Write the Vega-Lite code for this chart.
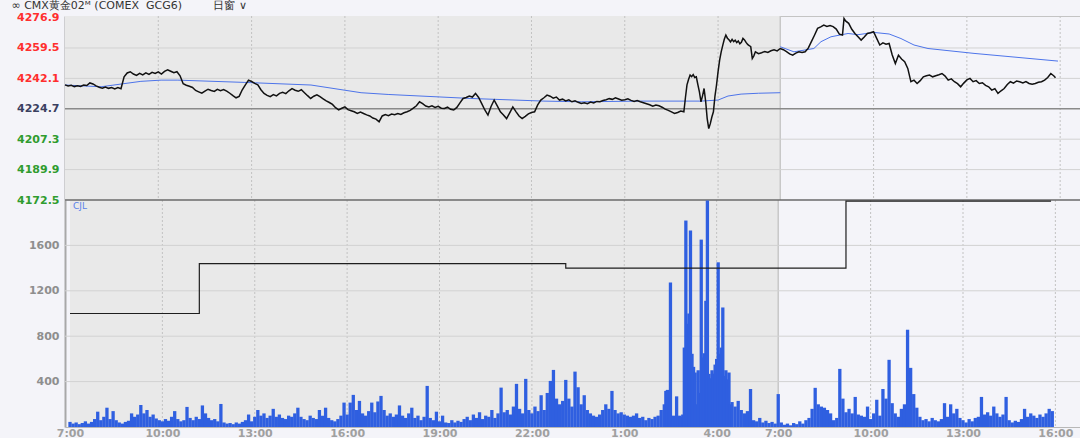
{
"$schema": "https://vega.github.io/schema/vega-lite/v6.json",
"background": "#f4f4f9",
"padding": {"left": 0, "top": 0, "right": 0, "bottom": 0},
"bounds": "flush",
"title": {"text": "∞ CMX黄金02ᴹ (COMEX\u00a0\u00a0GCG6)\u00a0\u00a0\u00a0\u00a0\u00a0\u00a0\u00a0\u00a0\u00a0日窗 ∨", "anchor": "start", "frame": "bounds", "font": "DejaVu Sans", "fontSize": 11, "fontWeight": "normal", "color": "#333333", "offset": 0, "dx": 11},
"spacing": 0,
"config": {"font": "DejaVu Sans", "view": {"stroke": null}, "axis": {"labelFont": "DejaVu Sans", "labelFontWeight": "bold", "labelFontSize": 11, "ticks": false, "grid": false, "title": null, "labelOverlap": false, "labelFlush": false, "labelBound": false}},
"datasets": {
"bg": [{"t": 0, "t2": 23}],
"gx": [{"t": 3}, {"t": 6}, {"t": 9}, {"t": 12}, {"t": 15}, {"t": 18}, {"t": 21}, {"t": 26}, {"t": 29}, {"t": 32}],
"b23": [{"t": 23}],
"gy1": [{"p": 4189.9}, {"p": 4207.3}, {"p": 4242.1}, {"p": 4259.5}],
"gy2": [{"v": 400}, {"v": 800}, {"v": 1200}, {"v": 1600}],
"topv": [{"v": 2000}],
"pc": [{"p": 4224.7}],
"cjl": [{"t": 0, "c": 1000}, {"t": 4.2, "c": 1440}, {"t": 16.1, "c": 1400}, {"t": 25.2, "c": 1990}, {"t": 31.86, "c": 1990}],
"lab": [{"t": 0, "v": 2000, "s": "CJL"}],
"avg": [
{"t":0,"p":4238.3,"s":1},{"t":1.16,"p":4237.3,"s":1},{"t":1.86,"p":4239.0,"s":1},{"t":2.44,"p":4240.4,"s":1},{"t":3.09,"p":4241.1,"s":1},{"t":3.63,"p":4241.1,"s":1},{"t":5.76,"p":4239.8,"s":1},{"t":7.91,"p":4238.3,"s":1},{"t":9.52,"p":4233.9,"s":1},{"t":10.39,"p":4232.9,"s":1},{"t":13.05,"p":4230.6,"s":1},{"t":15.4,"p":4229.1,"s":1},{"t":16.6,"p":4228.7,"s":1},{"t":18.52,"p":4229.1,"s":1},{"t":20.45,"p":4229.1,"s":1},{"t":21.0,"p":4229.7,"s":1},{"t":21.32,"p":4232.0,"s":1},{"t":21.74,"p":4233.1,"s":1},{"t":22.3,"p":4233.6,"s":1},{"t":23.0,"p":4233.9,"s":1},
{"t":23.0,"p":4260.2,"s":2},{"t":23.44,"p":4257.3,"s":2},{"t":24.08,"p":4259.2,"s":2},{"t":24.31,"p":4263.1,"s":2},{"t":24.63,"p":4265.9,"s":2},{"t":25.18,"p":4267.8,"s":2},{"t":25.5,"p":4267.1,"s":2},{"t":26.01,"p":4268.4,"s":2},{"t":26.5,"p":4267.5,"s":2},{"t":26.88,"p":4264.9,"s":2},{"t":27.3,"p":4261.2,"s":2},{"t":27.75,"p":4259.2,"s":2},{"t":29.23,"p":4256.4,"s":2},{"t":31.93,"p":4252.0,"s":2}
],
"px": [
{"t":0,"p":4238.4},{"t":0.1,"p":4237.8},{"t":0.2,"p":4238.1},{"t":0.3,"p":4237.4},{"t":0.4,"p":4237.9},{"t":0.5,"p":4237.5},{"t":0.6,"p":4238.3},{"t":0.7,"p":4238.0},{"t":0.8,"p":4239.5},{"t":0.9,"p":4238.9},
{"t":1.0,"p":4237.8},{"t":1.1,"p":4237.0},{"t":1.2,"p":4236.5},{"t":1.3,"p":4237.2},{"t":1.4,"p":4236.4},{"t":1.5,"p":4236.9},{"t":1.6,"p":4236.1},{"t":1.7,"p":4236.8},{"t":1.8,"p":4236.2},{"t":1.9,"p":4243.0},
{"t":2.0,"p":4245.2},{"t":2.1,"p":4245.9},{"t":2.2,"p":4244.6},{"t":2.3,"p":4243.8},{"t":2.4,"p":4245.0},{"t":2.5,"p":4244.1},{"t":2.6,"p":4245.3},{"t":2.7,"p":4244.4},{"t":2.8,"p":4245.6},{"t":2.9,"p":4244.9},
{"t":3.0,"p":4245.8},{"t":3.1,"p":4244.6},{"t":3.2,"p":4246.1},{"t":3.3,"p":4247.0},{"t":3.4,"p":4246.2},{"t":3.5,"p":4245.3},{"t":3.6,"p":4245.9},{"t":3.7,"p":4243.6},{"t":3.8,"p":4239.0},{"t":3.9,"p":4238.2},
{"t":4.0,"p":4237.6},{"t":4.1,"p":4236.9},{"t":4.2,"p":4235.2},{"t":4.3,"p":4234.4},{"t":4.4,"p":4233.6},{"t":4.5,"p":4234.8},{"t":4.6,"p":4235.9},{"t":4.7,"p":4235.2},{"t":4.8,"p":4234.6},{"t":4.9,"p":4235.8},
{"t":5.0,"p":4235.1},{"t":5.1,"p":4235.7},{"t":5.2,"p":4234.8},{"t":5.3,"p":4233.6},{"t":5.4,"p":4232.2},{"t":5.5,"p":4231.0},{"t":5.6,"p":4231.8},{"t":5.7,"p":4235.6},{"t":5.8,"p":4238.4},{"t":5.9,"p":4241.1},
{"t":6.0,"p":4240.3},{"t":6.1,"p":4239.2},{"t":6.2,"p":4238.4},{"t":6.3,"p":4235.6},{"t":6.4,"p":4233.5},{"t":6.5,"p":4232.4},{"t":6.6,"p":4231.6},{"t":6.7,"p":4232.8},{"t":6.8,"p":4232.1},{"t":6.9,"p":4233.5},
{"t":7.0,"p":4234.1},{"t":7.1,"p":4233.4},{"t":7.2,"p":4235.0},{"t":7.3,"p":4236.2},{"t":7.4,"p":4235.3},{"t":7.5,"p":4234.7},{"t":7.6,"p":4235.6},{"t":7.7,"p":4233.9},{"t":7.8,"p":4232.2},{"t":7.9,"p":4230.6},
{"t":8.0,"p":4231.9},{"t":8.1,"p":4232.7},{"t":8.2,"p":4231.6},{"t":8.3,"p":4230.4},{"t":8.4,"p":4229.2},{"t":8.5,"p":4228.3},{"t":8.6,"p":4227.2},{"t":8.7,"p":4225.3},{"t":8.8,"p":4224.1},{"t":8.9,"p":4225.0},
{"t":9.0,"p":4225.8},{"t":9.1,"p":4224.2},{"t":9.2,"p":4223.6},{"t":9.3,"p":4223.0},{"t":9.4,"p":4222.1},{"t":9.5,"p":4222.8},{"t":9.6,"p":4222.0},{"t":9.7,"p":4221.2},{"t":9.8,"p":4220.6},{"t":9.9,"p":4219.4},
{"t":10.0,"p":4218.8},{"t":10.1,"p":4217.3},{"t":10.2,"p":4220.6},{"t":10.3,"p":4221.4},{"t":10.4,"p":4220.8},{"t":10.5,"p":4221.7},{"t":10.6,"p":4221.3},{"t":10.7,"p":4222.0},{"t":10.8,"p":4221.5},{"t":10.9,"p":4222.4},
{"t":11.0,"p":4223.0},{"t":11.1,"p":4223.8},{"t":11.2,"p":4225.1},{"t":11.3,"p":4226.4},{"t":11.4,"p":4228.7},{"t":11.5,"p":4227.6},{"t":11.6,"p":4226.3},{"t":11.7,"p":4225.8},{"t":11.8,"p":4226.4},{"t":11.9,"p":4225.5},
{"t":12.0,"p":4226.1},{"t":12.1,"p":4225.0},{"t":12.2,"p":4224.9},{"t":12.3,"p":4225.6},{"t":12.4,"p":4224.4},{"t":12.5,"p":4224.0},{"t":12.6,"p":4225.5},{"t":12.7,"p":4228.1},{"t":12.8,"p":4230.6},{"t":12.9,"p":4231.2},
{"t":13.0,"p":4232.0},{"t":13.1,"p":4231.4},{"t":13.2,"p":4233.5},{"t":13.3,"p":4231.2},{"t":13.4,"p":4227.7},{"t":13.5,"p":4224.0},{"t":13.6,"p":4221.1},{"t":13.7,"p":4226.0},{"t":13.8,"p":4229.7},{"t":13.9,"p":4226.4},
{"t":14.0,"p":4223.0},{"t":14.1,"p":4221.2},{"t":14.2,"p":4219.1},{"t":14.3,"p":4222.4},{"t":14.4,"p":4225.8},{"t":14.5,"p":4223.1},{"t":14.6,"p":4220.6},{"t":14.7,"p":4219.1},{"t":14.8,"p":4220.4},{"t":14.9,"p":4221.8},
{"t":15.0,"p":4222.6},{"t":15.1,"p":4223.0},{"t":15.2,"p":4226.9},{"t":15.3,"p":4229.7},{"t":15.4,"p":4231.0},{"t":15.5,"p":4232.5},{"t":15.6,"p":4231.9},{"t":15.7,"p":4230.8},{"t":15.8,"p":4231.4},{"t":15.9,"p":4229.7},
{"t":16.0,"p":4230.2},{"t":16.1,"p":4229.2},{"t":16.2,"p":4229.8},{"t":16.3,"p":4228.7},{"t":16.4,"p":4229.3},{"t":16.5,"p":4228.4},{"t":16.6,"p":4227.7},{"t":16.7,"p":4228.2},{"t":16.8,"p":4227.6},{"t":16.9,"p":4228.5},
{"t":17.0,"p":4228.0},{"t":17.1,"p":4228.9},{"t":17.2,"p":4228.7},{"t":17.3,"p":4229.4},{"t":17.4,"p":4229.9},{"t":17.5,"p":4230.5},{"t":17.6,"p":4230.1},{"t":17.7,"p":4231.0},{"t":17.8,"p":4230.3},{"t":17.9,"p":4229.6},
{"t":18.0,"p":4229.9},{"t":18.1,"p":4230.4},{"t":18.2,"p":4229.5},{"t":18.3,"p":4228.9},{"t":18.4,"p":4229.4},{"t":18.5,"p":4228.7},{"t":18.6,"p":4228.2},{"t":18.7,"p":4227.6},{"t":18.8,"p":4227.0},{"t":18.9,"p":4226.2},
{"t":19.0,"p":4226.8},{"t":19.1,"p":4226.4},{"t":19.2,"p":4225.6},{"t":19.3,"p":4224.5},{"t":19.4,"p":4223.8},{"t":19.5,"p":4222.9},{"t":19.6,"p":4222.0},{"t":19.7,"p":4222.6},{"t":19.8,"p":4223.4},{"t":19.9,"p":4223.0},
{"t":19.95,"p":4231.0},{"t":20.0,"p":4238.4},{"t":20.05,"p":4241.5},{"t":20.1,"p":4244.0},{"t":20.15,"p":4243.1},{"t":20.2,"p":4244.3},{"t":20.25,"p":4242.6},{"t":20.3,"p":4243.0},{"t":20.35,"p":4238.5},{"t":20.4,"p":4234.4},
{"t":20.45,"p":4228.7},{"t":20.5,"p":4232.1},{"t":20.55,"p":4236.3},{"t":20.6,"p":4229.0},{"t":20.65,"p":4219.1},{"t":20.7,"p":4213.4},{"t":20.75,"p":4216.2},{"t":20.8,"p":4220.0},{"t":20.85,"p":4223.0},{"t":20.9,"p":4232.0},
{"t":20.95,"p":4238.3},{"t":21.0,"p":4246.0},{"t":21.05,"p":4252.5},{"t":21.1,"p":4257.3},{"t":21.15,"p":4261.0},{"t":21.2,"p":4264.5},{"t":21.25,"p":4266.9},{"t":21.3,"p":4265.1},{"t":21.35,"p":4264.2},{"t":21.4,"p":4263.0},
{"t":21.45,"p":4264.4},{"t":21.5,"p":4263.1},{"t":21.55,"p":4264.0},{"t":21.6,"p":4262.6},{"t":21.65,"p":4263.5},{"t":21.7,"p":4261.9},{"t":21.75,"p":4262.8},{"t":21.8,"p":4265.0},{"t":21.85,"p":4264.1},{"t":21.9,"p":4262.7},
{"t":21.95,"p":4261.5},{"t":22.0,"p":4260.9},{"t":22.05,"p":4260.2},{"t":22.1,"p":4253.5},{"t":22.15,"p":4255.0},{"t":22.2,"p":4257.3},{"t":22.3,"p":4256.2},{"t":22.4,"p":4256.8},{"t":22.5,"p":4257.5},{"t":22.6,"p":4256.9},
{"t":22.7,"p":4257.9},{"t":22.8,"p":4258.4},{"t":22.9,"p":4257.8},{"t":23.0,"p":4259.2},
{"t":23.1,"p":4258.5},{"t":23.2,"p":4257.4},{"t":23.3,"p":4256.1},{"t":23.4,"p":4255.4},{"t":23.5,"p":4256.6},{"t":23.6,"p":4257.3},{"t":23.7,"p":4256.9},{"t":23.8,"p":4257.3},{"t":23.9,"p":4259.4},
{"t":24.0,"p":4263.1},{"t":24.1,"p":4266.8},{"t":24.2,"p":4270.7},{"t":24.3,"p":4271.6},{"t":24.4,"p":4272.6},{"t":24.5,"p":4271.8},{"t":24.6,"p":4272.3},{"t":24.7,"p":4271.7},{"t":24.8,"p":4270.3},{"t":24.9,"p":4267.4},
{"t":25.0,"p":4266.9},{"t":25.05,"p":4276.4},{"t":25.1,"p":4275.0},{"t":25.2,"p":4273.6},{"t":25.3,"p":4270.2},{"t":25.4,"p":4267.8},{"t":25.5,"p":4265.9},{"t":25.6,"p":4264.0},{"t":25.7,"p":4265.8},{"t":25.8,"p":4267.8},
{"t":25.9,"p":4268.2},{"t":26.0,"p":4268.8},{"t":26.1,"p":4265.0},{"t":26.2,"p":4261.2},{"t":26.3,"p":4262.4},{"t":26.4,"p":4261.6},{"t":26.5,"p":4262.1},{"t":26.6,"p":4255.5},{"t":26.7,"p":4250.6},{"t":26.8,"p":4255.4},
{"t":26.9,"p":4253.2},{"t":27.0,"p":4251.6},{"t":27.1,"p":4247.8},{"t":27.2,"p":4240.2},{"t":27.3,"p":4241.1},{"t":27.4,"p":4239.2},{"t":27.5,"p":4240.8},{"t":27.6,"p":4243.0},{"t":27.7,"p":4243.6},{"t":27.8,"p":4244.0},
{"t":27.9,"p":4243.0},{"t":28.0,"p":4243.6},{"t":28.1,"p":4244.2},{"t":28.2,"p":4244.9},{"t":28.3,"p":4243.4},{"t":28.4,"p":4241.1},{"t":28.5,"p":4241.8},{"t":28.6,"p":4240.2},{"t":28.7,"p":4239.1},{"t":28.8,"p":4237.3},
{"t":28.9,"p":4239.4},{"t":29.0,"p":4241.2},{"t":29.1,"p":4242.1},{"t":29.2,"p":4240.2},{"t":29.3,"p":4240.8},{"t":29.4,"p":4239.2},{"t":29.5,"p":4239.6},{"t":29.6,"p":4238.1},{"t":29.7,"p":4237.3},{"t":29.8,"p":4235.4},
{"t":29.9,"p":4236.2},{"t":30.0,"p":4233.5},{"t":30.1,"p":4235.0},{"t":30.2,"p":4236.3},{"t":30.3,"p":4238.6},{"t":30.4,"p":4240.2},{"t":30.5,"p":4239.4},{"t":30.6,"p":4240.6},{"t":30.7,"p":4240.2},{"t":30.8,"p":4239.5},
{"t":30.9,"p":4240.3},{"t":31.0,"p":4239.2},{"t":31.1,"p":4238.8},{"t":31.2,"p":4239.2},{"t":31.3,"p":4239.9},{"t":31.4,"p":4240.2},{"t":31.5,"p":4241.1},{"t":31.6,"p":4242.6},{"t":31.7,"p":4244.9},{"t":31.8,"p":4243.5},{"t":31.85,"p":4242.5}
],
"vol": [
{"t":0.0,"v":45},{"t":0.1,"v":30},{"t":0.2,"v":40},{"t":0.3,"v":25},{"t":0.4,"v":35},{"t":0.5,"v":50},{"t":0.6,"v":30},{"t":0.7,"v":45},{"t":0.8,"v":70},{"t":0.9,"v":135},
{"t":1.0,"v":60},{"t":1.1,"v":90},{"t":1.2,"v":170},{"t":1.3,"v":70},{"t":1.4,"v":140},{"t":1.5,"v":60},{"t":1.6,"v":40},{"t":1.7,"v":30},{"t":1.8,"v":45},{"t":1.9,"v":55},
{"t":2.0,"v":120},{"t":2.1,"v":90},{"t":2.2,"v":110},{"t":2.3,"v":194},{"t":2.4,"v":120},{"t":2.5,"v":150},{"t":2.6,"v":90},{"t":2.7,"v":110},{"t":2.8,"v":75},{"t":2.9,"v":60},
{"t":3.0,"v":50},{"t":3.1,"v":70},{"t":3.2,"v":55},{"t":3.3,"v":90},{"t":3.4,"v":140},{"t":3.5,"v":70},{"t":3.6,"v":50},{"t":3.7,"v":60},{"t":3.8,"v":177},{"t":3.9,"v":80},
{"t":4.0,"v":60},{"t":4.1,"v":90},{"t":4.2,"v":70},{"t":4.3,"v":190},{"t":4.4,"v":120},{"t":4.5,"v":80},{"t":4.6,"v":60},{"t":4.7,"v":70},{"t":4.8,"v":50},{"t":4.9,"v":203},
{"t":5.0,"v":40},{"t":5.1,"v":30},{"t":5.2,"v":35},{"t":5.3,"v":25},{"t":5.4,"v":40},{"t":5.5,"v":30},{"t":5.6,"v":45},{"t":5.7,"v":60},{"t":5.8,"v":110},{"t":5.9,"v":50},
{"t":6.0,"v":90},{"t":6.1,"v":150},{"t":6.2,"v":100},{"t":6.3,"v":120},{"t":6.4,"v":80},{"t":6.5,"v":100},{"t":6.6,"v":160},{"t":6.7,"v":90},{"t":6.8,"v":110},{"t":6.9,"v":80},
{"t":7.0,"v":70},{"t":7.1,"v":100},{"t":7.2,"v":90},{"t":7.3,"v":120},{"t":7.4,"v":170},{"t":7.5,"v":90},{"t":7.6,"v":70},{"t":7.7,"v":60},{"t":7.8,"v":100},{"t":7.9,"v":80},
{"t":8.0,"v":70},{"t":8.1,"v":150},{"t":8.2,"v":100},{"t":8.3,"v":170},{"t":8.4,"v":80},{"t":8.5,"v":60},{"t":8.6,"v":50},{"t":8.7,"v":70},{"t":8.8,"v":100},{"t":8.9,"v":215},
{"t":9.0,"v":110},{"t":9.1,"v":215},{"t":9.2,"v":283},{"t":9.3,"v":150},{"t":9.4,"v":230},{"t":9.5,"v":120},{"t":9.6,"v":100},{"t":9.7,"v":140},{"t":9.8,"v":215},{"t":9.9,"v":130},
{"t":10.0,"v":225},{"t":10.1,"v":274},{"t":10.2,"v":150},{"t":10.3,"v":100},{"t":10.4,"v":120},{"t":10.5,"v":90},{"t":10.6,"v":110},{"t":10.7,"v":190},{"t":10.8,"v":100},{"t":10.9,"v":80},
{"t":11.0,"v":120},{"t":11.1,"v":170},{"t":11.2,"v":80},{"t":11.3,"v":100},{"t":11.4,"v":60},{"t":11.5,"v":90},{"t":11.6,"v":362},{"t":11.7,"v":80},{"t":11.8,"v":60},{"t":11.9,"v":135},
{"t":12.0,"v":50},{"t":12.1,"v":100},{"t":12.2,"v":40},{"t":12.3,"v":35},{"t":12.4,"v":60},{"t":12.5,"v":40},{"t":12.6,"v":55},{"t":12.7,"v":45},{"t":12.8,"v":70},{"t":12.9,"v":90},
{"t":13.0,"v":60},{"t":13.1,"v":110},{"t":13.2,"v":80},{"t":13.3,"v":130},{"t":13.4,"v":70},{"t":13.5,"v":100},{"t":13.6,"v":90},{"t":13.7,"v":150},{"t":13.8,"v":80},{"t":13.9,"v":120},
{"t":14.0,"v":347},{"t":14.1,"v":130},{"t":14.2,"v":150},{"t":14.3,"v":110},{"t":14.4,"v":180},{"t":14.5,"v":380},{"t":14.6,"v":160},{"t":14.7,"v":120},{"t":14.8,"v":424},{"t":14.9,"v":150},
{"t":15.0,"v":120},{"t":15.1,"v":180},{"t":15.2,"v":140},{"t":15.3,"v":280},{"t":15.4,"v":150},{"t":15.5,"v":300},{"t":15.6,"v":406},{"t":15.7,"v":503},{"t":15.8,"v":250},{"t":15.9,"v":200},
{"t":16.0,"v":230},{"t":16.1,"v":415},{"t":16.2,"v":250},{"t":16.3,"v":180},{"t":16.4,"v":488},{"t":16.5,"v":350},{"t":16.6,"v":200},{"t":16.7,"v":280},{"t":16.8,"v":150},{"t":16.9,"v":120},
{"t":17.0,"v":100},{"t":17.1,"v":90},{"t":17.2,"v":110},{"t":17.3,"v":150},{"t":17.4,"v":200},{"t":17.5,"v":160},{"t":17.6,"v":318},{"t":17.7,"v":150},{"t":17.8,"v":120},{"t":17.9,"v":130},
{"t":18.0,"v":110},{"t":18.1,"v":100},{"t":18.2,"v":90},{"t":18.3,"v":100},{"t":18.4,"v":120},{"t":18.5,"v":80},{"t":18.6,"v":90},{"t":18.7,"v":60},{"t":18.8,"v":80},{"t":18.9,"v":70},
{"t":19.0,"v":90},{"t":19.1,"v":100},{"t":19.2,"v":150},{"t":19.3,"v":200},{"t":19.35,"v":318},{"t":19.4,"v":327},{"t":19.45,"v":180},{"t":19.5,"v":1274},{"t":19.55,"v":60},{"t":19.6,"v":100},
{"t":19.65,"v":80},{"t":19.7,"v":270},{"t":19.75,"v":90},{"t":19.8,"v":100},{"t":19.85,"v":90},{"t":19.9,"v":110},{"t":19.95,"v":700},{"t":20.0,"v":1819},{"t":20.05,"v":909},{"t":20.1,"v":1000},
{"t":20.15,"v":1731},{"t":20.2,"v":645},{"t":20.25,"v":530},{"t":20.3,"v":480},{"t":20.35,"v":200},{"t":20.4,"v":500},{"t":20.45,"v":300},{"t":20.5,"v":1651},{"t":20.55,"v":612},{"t":20.6,"v":650},
{"t":20.65,"v":1112},{"t":20.7,"v":1995},{"t":20.75,"v":468},{"t":20.8,"v":430},{"t":20.85,"v":500},{"t":20.9,"v":470},{"t":20.95,"v":550},{"t":21.0,"v":600},{"t":21.05,"v":1451},{"t":21.1,"v":645},
{"t":21.15,"v":700},{"t":21.2,"v":1053},{"t":21.25,"v":450},{"t":21.3,"v":500},{"t":21.35,"v":420},{"t":21.4,"v":480},{"t":21.45,"v":200},{"t":21.5,"v":220},{"t":21.6,"v":180},{"t":21.7,"v":230},
{"t":21.8,"v":150},{"t":21.9,"v":120},{"t":22.0,"v":140},{"t":22.1,"v":335},{"t":22.2,"v":60},{"t":22.3,"v":50},{"t":22.4,"v":80},{"t":22.5,"v":40},{"t":22.6,"v":55},{"t":22.7,"v":35},
{"t":22.8,"v":45},{"t":22.9,"v":30},
{"t":23.0,"v":290},{"t":23.1,"v":40},{"t":23.2,"v":20},{"t":23.3,"v":30},{"t":23.4,"v":15},{"t":23.5,"v":35},{"t":23.6,"v":25},{"t":23.7,"v":50},{"t":23.8,"v":30},{"t":23.9,"v":60},
{"t":24.0,"v":80},{"t":24.1,"v":160},{"t":24.2,"v":345},{"t":24.3,"v":200},{"t":24.4,"v":180},{"t":24.5,"v":170},{"t":24.6,"v":150},{"t":24.7,"v":120},{"t":24.8,"v":60},{"t":24.9,"v":80},
{"t":25.0,"v":512},{"t":25.1,"v":250},{"t":25.2,"v":130},{"t":25.3,"v":160},{"t":25.4,"v":120},{"t":25.5,"v":265},{"t":25.6,"v":110},{"t":25.7,"v":100},{"t":25.8,"v":90},{"t":25.9,"v":180},
{"t":26.0,"v":70},{"t":26.1,"v":120},{"t":26.2,"v":240},{"t":26.3,"v":100},{"t":26.4,"v":335},{"t":26.5,"v":250},{"t":26.6,"v":592},{"t":26.7,"v":210},{"t":26.8,"v":120},{"t":26.9,"v":90},
{"t":27.0,"v":160},{"t":27.1,"v":200},{"t":27.2,"v":857},{"t":27.3,"v":521},{"t":27.4,"v":290},{"t":27.5,"v":170},{"t":27.6,"v":90},{"t":27.7,"v":60},{"t":27.8,"v":70},{"t":27.9,"v":50},
{"t":28.0,"v":80},{"t":28.1,"v":60},{"t":28.2,"v":50},{"t":28.3,"v":70},{"t":28.4,"v":210},{"t":28.5,"v":90},{"t":28.6,"v":200},{"t":28.7,"v":120},{"t":28.8,"v":160},{"t":28.9,"v":80},
{"t":29.0,"v":60},{"t":29.1,"v":40},{"t":29.2,"v":70},{"t":29.3,"v":50},{"t":29.4,"v":80},{"t":29.5,"v":90},{"t":29.6,"v":265},{"t":29.7,"v":110},{"t":29.8,"v":130},{"t":29.9,"v":100},
{"t":30.0,"v":180},{"t":30.1,"v":120},{"t":30.2,"v":90},{"t":30.3,"v":110},{"t":30.4,"v":265},{"t":30.5,"v":60},{"t":30.6,"v":40},{"t":30.7,"v":55},{"t":30.8,"v":45},{"t":30.9,"v":70},
{"t":31.0,"v":160},{"t":31.1,"v":90},{"t":31.2,"v":120},{"t":31.3,"v":100},{"t":31.4,"v":80},{"t":31.5,"v":110},{"t":31.6,"v":90},{"t":31.7,"v":120},{"t":31.8,"v":160},{"t":31.9,"v":140}
]
},
"vconcat": [
{
"width": 1016, "height": 184,
"view": {"stroke": "#c4c4c4", "fill": "#f4f4f9"},
"layer": [
{"data": {"name": "bg"}, "mark": {"type": "rect", "color": "#e9e9e9"},
 "encoding": {"x": {"field": "t", "type": "quantitative", "scale": {"domain": [0, 32.67], "nice": false, "zero": false},
   "axis": {"values": [0,3,6,9,12,15,18,21,23,26,29,32], "tickCount": 20, "labels": false, "domain": false, "minExtent": 0, "maxExtent": 0}},
  "x2": {"field": "t2"}}},
{"data": {"name": "gx"}, "mark": {"type": "rule", "color": "#c2c2c2", "strokeDash": [2, 2], "strokeWidth": 1},
 "encoding": {"x": {"field": "t", "type": "quantitative", "scale": {"domain": [0, 32.67], "nice": false, "zero": false}}}},
{"data": {"name": "b23"}, "mark": {"type": "rule", "color": "#c8c8c8", "strokeWidth": 1.5},
 "encoding": {"x": {"field": "t", "type": "quantitative", "scale": {"domain": [0, 32.67], "nice": false, "zero": false}}}},
{"data": {"name": "gy1"}, "mark": {"type": "rule", "color": "#d2d2d2", "strokeWidth": 1},
 "encoding": {"y": {"field": "p", "type": "quantitative", "scale": {"domain": [4172.5, 4277.8], "nice": false, "zero": false},
   "axis": {"values": [4172.5,4189.9,4207.3,4224.7,4242.1,4259.5,4276.9], "tickCount": 20, "format": ".1f",
     "labelColor": {"expr": "datum.value > 4225 ? '#ff2e2e' : datum.value > 4224 ? '#3a4060' : '#2f9c2f'"},
     "labelPadding": 6, "minExtent": 64, "maxExtent": 64, "domain": true, "domainColor": "#a8a8a8", "domainWidth": 2,
     "labelOverlap": false, "labelFlush": false, "labelBound": false}}}},
{"data": {"name": "pc"}, "mark": {"type": "rule", "color": "#8a8a8a", "strokeWidth": 1.5},
 "encoding": {"y": {"field": "p", "type": "quantitative", "scale": {"domain": [4172.5, 4277.8], "nice": false, "zero": false}}}},
{"data": {"name": "avg"}, "mark": {"type": "line", "color": "#4d74ea", "strokeWidth": 1},
 "encoding": {"x": {"field": "t", "type": "quantitative", "scale": {"domain": [0, 32.67], "nice": false, "zero": false}},
  "y": {"field": "p", "type": "quantitative", "scale": {"domain": [4172.5, 4277.8], "nice": false, "zero": false}},
  "detail": {"field": "s", "type": "nominal"}}},
{"data": {"name": "px"}, "mark": {"type": "line", "color": "#111111", "strokeWidth": 1.5},
 "encoding": {"x": {"field": "t", "type": "quantitative", "scale": {"domain": [0, 32.67], "nice": false, "zero": false}},
  "y": {"field": "p", "type": "quantitative", "scale": {"domain": [4172.5, 4277.8], "nice": false, "zero": false}}}}
]
},
{
"width": 1016, "height": 227,
"view": {"stroke": null, "fill": "#f4f4f9"},
"layer": [
{"data": {"name": "bg"}, "mark": {"type": "rect", "color": "#e9e9e9"},
 "encoding": {"x": {"field": "t", "type": "quantitative", "scale": {"domain": [0, 32.67], "nice": false, "zero": false},
   "axis": {"values": [0,3,6,9,12,15,18,21,23,26,29,32], "tickCount": 20,
     "labelExpr": "(datum.value < 23 ? (7 + datum.value) % 24 : datum.value - 16) + ':00'",
     "labelColor": "#a0a0a0", "labelPadding": 0, "domain": true, "domainColor": "#b8b8b8",
     "labelFlush": false, "labelOverlap": false, "labelBound": false}},
  "x2": {"field": "t2"}}},
{"data": {"name": "gx"}, "mark": {"type": "rule", "color": "#c2c2c2", "strokeDash": [2, 2], "strokeWidth": 1},
 "encoding": {"x": {"field": "t", "type": "quantitative", "scale": {"domain": [0, 32.67], "nice": false, "zero": false}}}},
{"data": {"name": "b23"}, "mark": {"type": "rule", "color": "#c8c8c8", "strokeWidth": 1.5},
 "encoding": {"x": {"field": "t", "type": "quantitative", "scale": {"domain": [0, 32.67], "nice": false, "zero": false}}}},
{"data": {"name": "gy2"}, "mark": {"type": "rule", "color": "#d2d2d2", "strokeWidth": 1},
 "encoding": {"y": {"field": "v", "type": "quantitative", "scale": {"domain": [0, 2000], "nice": false},
   "axis": {"values": [400, 800, 1200, 1600], "tickCount": 20, "format": "d", "labelColor": "#8e8e8e", "labelPadding": 6, "minExtent": 64, "maxExtent": 64,
     "domain": true, "domainColor": "#a8a8a8", "domainWidth": 2, "labelOverlap": false}}}},
{"data": {"name": "topv"}, "mark": {"type": "rule", "color": "#6a6a6a", "strokeWidth": 1.3},
 "encoding": {"y": {"field": "v", "type": "quantitative", "scale": {"domain": [0, 2000], "nice": false}}}},
{"data": {"name": "vol"}, "mark": {"type": "bar", "color": "#2f5fe0", "size": 3.3, "orient": "vertical"},
 "encoding": {"x": {"field": "t", "type": "quantitative", "scale": {"domain": [0, 32.67], "nice": false, "zero": false}},
  "y": {"field": "v", "type": "quantitative", "scale": {"domain": [0, 2000], "nice": false}}}},
{"data": {"name": "cjl"}, "mark": {"type": "line", "interpolate": "step-after", "color": "#1e1e1e", "strokeWidth": 1.2},
 "encoding": {"x": {"field": "t", "type": "quantitative", "scale": {"domain": [0, 32.67], "nice": false, "zero": false}},
  "y": {"field": "c", "type": "quantitative", "scale": {"domain": [0, 2000], "nice": false}}}},
{"data": {"name": "lab"}, "mark": {"type": "text", "align": "left", "baseline": "top", "dx": 3, "dy": 2, "color": "#5b82ea", "fontSize": 9, "font": "DejaVu Sans"},
 "encoding": {"x": {"field": "t", "type": "quantitative", "scale": {"domain": [0, 32.67], "nice": false, "zero": false}},
  "y": {"field": "v", "type": "quantitative", "scale": {"domain": [0, 2000], "nice": false}},
  "text": {"field": "s"}}}
]
}
]
}
